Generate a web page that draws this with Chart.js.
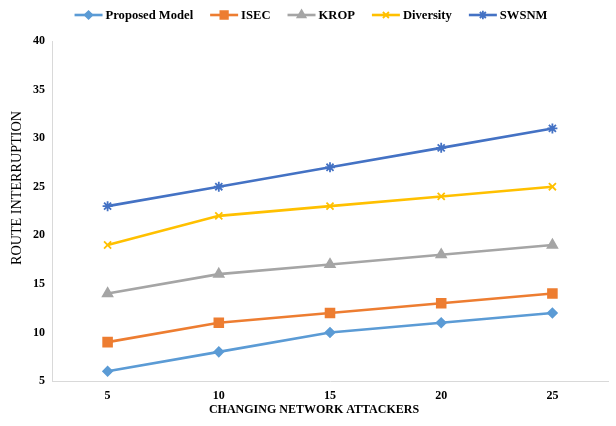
<!DOCTYPE html>
<html>
<head>
<meta charset="utf-8">
<script src="https://cdn.jsdelivr.net/npm/chart.js@4/dist/chart.umd.min.js"></script>
<style>
  html, body { margin: 0; padding: 0; background: #ffffff; }
  #wrap { width: 616px; height: 426px; position: relative; }
</style>
</head>
<body>
<div id="wrap"><canvas id="c" width="616" height="426"></canvas></div>
<script>
// Number of network attackers on the x axis
const attackers = ['5', '10', '15', '20', '25'];

// Route interruption per method
const proposedModel = [6, 8, 10, 11, 12];
const isec = [9, 11, 12, 13, 14];
const krop = [14, 16, 17, 18, 19];
const diversity = [19, 22, 23, 24, 25];
const swsnm = [23, 25, 27, 29, 31];

const seriesNames = ['Proposed Model', 'ISEC', 'KROP', 'Diversity', 'SWSNM'];
const yTitle = 'ROUTE INTERRUPTION';
const xTitle = 'CHANGING NETWORK ATTACKERS';

const serif = "'Liberation Serif', 'Times New Roman', serif";

const styles = [
  { color: '#5B9BD5', pointStyle: 'rectRot', radius: 4.5 },
  { color: '#ED7D31', pointStyle: 'rect', radius: 6.2 },
  { color: '#A5A5A5', pointStyle: 'triangle', radius: 5.5 },
  { color: '#FFC000', pointStyle: 'crossRot', radius: 5 },
  { color: '#4472C4', pointStyle: 'star', radius: 5 }
];

const values = [proposedModel, isec, krop, diversity, swsnm];

const datasets = values.map((data, i) => ({
  label: seriesNames[i],
  data: data,
  borderColor: styles[i].color,
  backgroundColor: styles[i].color,
  borderWidth: 2.6,
  pointStyle: styles[i].pointStyle,
  pointRadius: styles[i].radius,
  pointHoverRadius: styles[i].radius,
  pointBorderWidth: 1.8,
  pointBackgroundColor: styles[i].color,
  pointBorderColor: styles[i].color,
  tension: 0,
  fill: false
}));

// Legend row: line + marker swatch followed by the series name
const legendRow = {
  id: 'legendRow',
  afterDraw(chart) {
    const ctx = chart.ctx;
    ctx.save();
    ctx.font = 'bold 12.6px ' + serif;
    ctx.textBaseline = 'middle';
    const swatch = 28, gapText = 3, gapItem = 17, cy = 15;
    const items = chart.data.datasets.map(ds => ({ ds, w: ctx.measureText(ds.label).width }));
    let total = 0;
    items.forEach((it, i) => { total += swatch + gapText + it.w + (i < items.length - 1 ? gapItem : 0); });
    let x = 311 - total / 2;
    items.forEach(it => {
      const ds = it.ds;
      ctx.strokeStyle = ds.borderColor;
      ctx.lineWidth = 2.6;
      ctx.beginPath();
      ctx.moveTo(x, cy);
      ctx.lineTo(x + swatch, cy);
      ctx.stroke();
      ctx.fillStyle = ds.borderColor;
      ctx.strokeStyle = ds.borderColor;
      ctx.lineWidth = 1.8;
      Chart.helpers.drawPoint(ctx, {
        pointStyle: ds.pointStyle,
        radius: ds.pointRadius * 0.85,
        rotation: 0,
        borderWidth: 1.8
      }, x + swatch / 2, cy);
      ctx.fillStyle = '#000000';
      ctx.textAlign = 'left';
      ctx.fillText(ds.label, x + swatch + gapText, cy + 1);
      x += swatch + gapText + it.w + gapItem;
    });
    ctx.restore();
  }
};

// Axis titles
const axisTitles = {
  id: 'axisTitles',
  afterDraw(chart) {
    const ctx = chart.ctx;
    ctx.save();
    ctx.fillStyle = '#000000';
    ctx.textAlign = 'center';
    ctx.textBaseline = 'middle';
    ctx.font = 'bold 12px ' + serif;
    ctx.fillText(xTitle, 314, 410);
    ctx.translate(17, 188);
    ctx.rotate(-Math.PI / 2);
    ctx.font = '14.2px ' + serif;
    ctx.fillText(yTitle, 0, 0);
    ctx.restore();
  }
};

new Chart(document.getElementById('c'), {
  type: 'line',
  data: { labels: attackers, datasets },
  plugins: [legendRow, axisTitles],
  options: {
    responsive: false,
    animation: false,
    devicePixelRatio: 1,
    layout: { padding: { top: 41, right: 4, left: 0, bottom: 0 } },
    plugins: {
      legend: { display: false },
      tooltip: { enabled: false }
    },
    scales: {
      x: {
        offset: true,
        grid: { display: false, drawTicks: false },
        border: { display: true, color: '#D9D9D9', width: 1 },
        ticks: {
          color: '#000000',
          padding: 8,
          font: { family: serif, size: 12, weight: 'bold' }
        },
        afterFit(scale) { scale.height = 45; }
      },
      y: {
        min: 5,
        max: 40,
        grid: { display: false, drawTicks: false },
        border: { display: true, color: '#D9D9D9', width: 1 },
        ticks: {
          stepSize: 5,
          color: '#000000',
          padding: 7,
          font: { family: serif, size: 12, weight: 'bold' }
        },
        afterFit(scale) { scale.width = 52; }
      }
    }
  }
});
</script>
</body>
</html>
